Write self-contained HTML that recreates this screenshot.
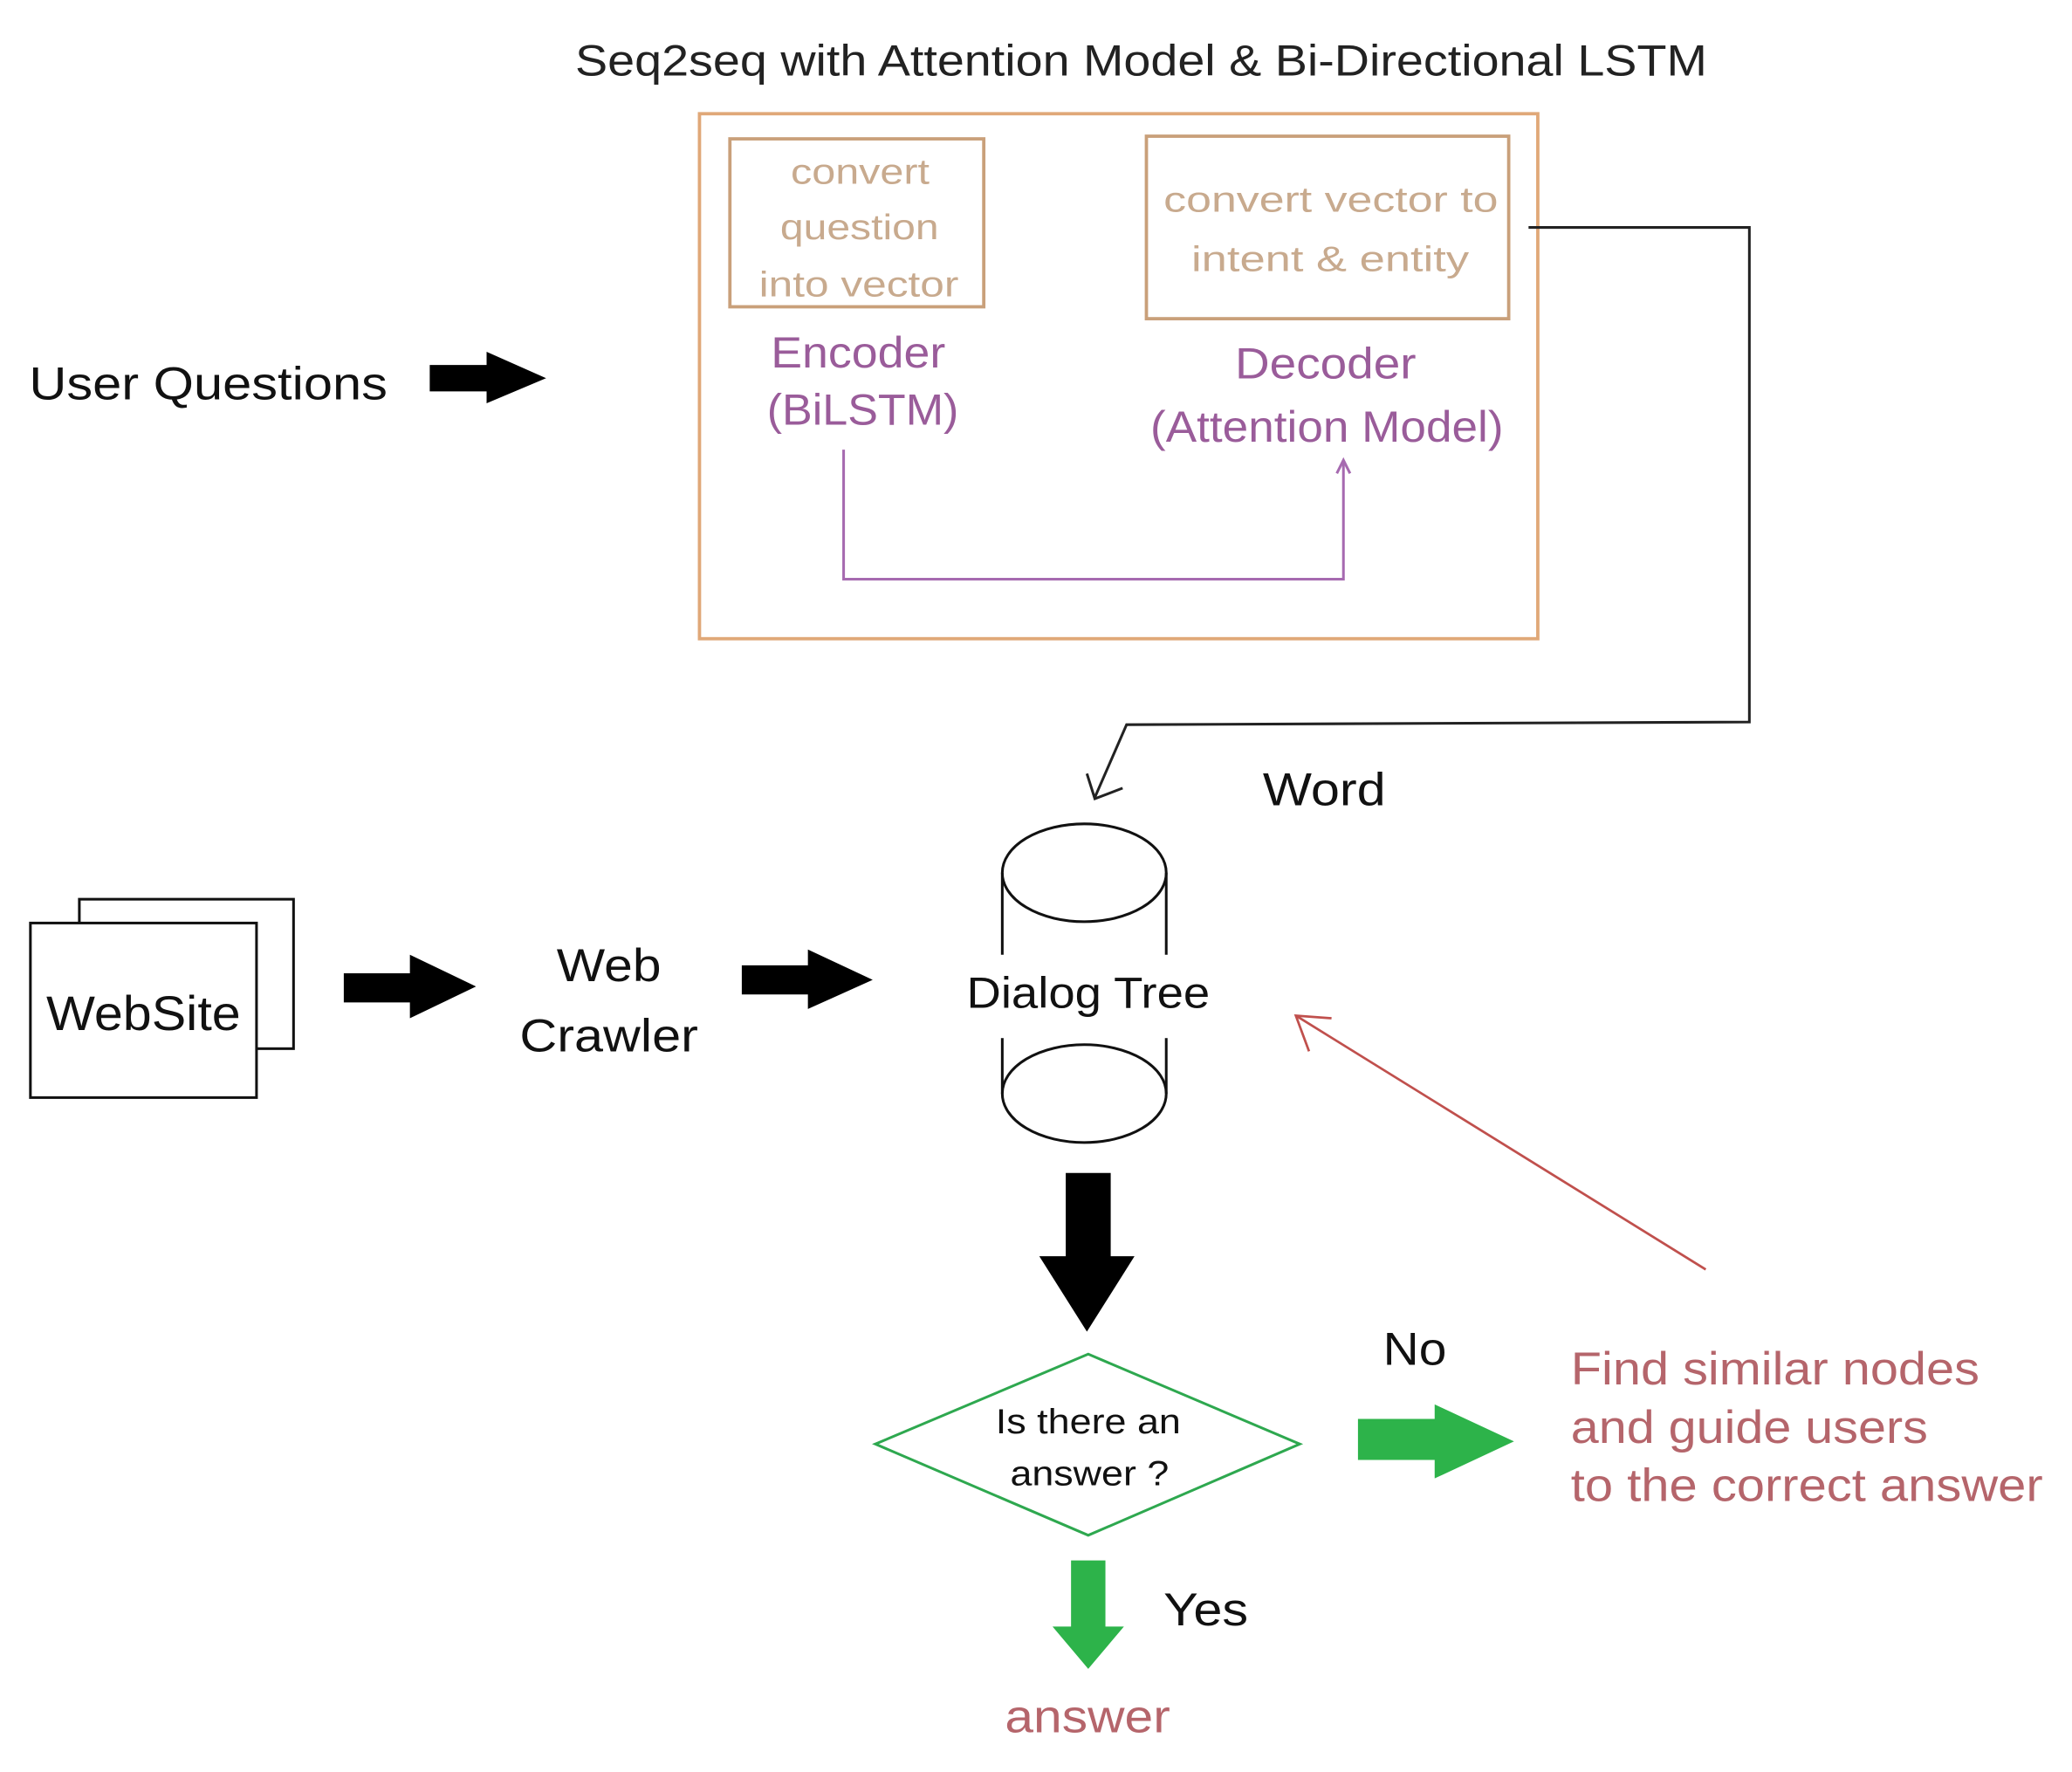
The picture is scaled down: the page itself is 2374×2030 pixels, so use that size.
<!DOCTYPE html>
<html><head><meta charset="utf-8"><style>
html,body{margin:0;padding:0;background:#fff;}
svg{display:block;}
text{font-family:"Liberation Sans",sans-serif;}
</style></head><body>
<svg width="2374" height="2030" viewBox="0 0 1567 1340" preserveAspectRatio="none" xmlns="http://www.w3.org/2000/svg">
<rect width="1567" height="1340" fill="#fff"/>
<g lengthAdjust="spacingAndGlyphs">
<text x="435" y="57" font-size="33" fill="#222" textLength="856" lengthAdjust="spacingAndGlyphs">Seq2seq with Attention Model &amp; Bi-Directional LSTM</text>
</g>
<rect x="529" y="86" width="634" height="397" fill="none" stroke="#e0a878" stroke-width="2.5"/>
<rect x="552" y="105" width="192" height="127" fill="none" stroke="#c9a07a" stroke-width="2.5"/>
<g font-size="27" fill="#c8aa8e">
<text x="598" y="139" textLength="105" lengthAdjust="spacingAndGlyphs">convert</text>
<text x="590" y="181" textLength="120" lengthAdjust="spacingAndGlyphs">question</text>
<text x="574" y="224" textLength="151" lengthAdjust="spacingAndGlyphs">into vector</text>
<text x="880" y="160" textLength="253" lengthAdjust="spacingAndGlyphs">convert vector to</text>
<text x="901" y="205" textLength="210" lengthAdjust="spacingAndGlyphs">intent &amp; entity</text>
</g>
<rect x="867" y="103" width="274" height="138" fill="none" stroke="#c9a07a" stroke-width="2.5"/>
<g font-size="33" fill="#9a5c9a">
<text x="583" y="278" textLength="132" lengthAdjust="spacingAndGlyphs">Encoder</text>
<text x="580" y="321" textLength="145" lengthAdjust="spacingAndGlyphs">(BiLSTM)</text>
<text x="934" y="286" textLength="137" lengthAdjust="spacingAndGlyphs">Decoder</text>
<text x="870" y="334" textLength="267" lengthAdjust="spacingAndGlyphs">(Attention Model)</text>
</g>
<polyline points="638,340 638,438 1016,438 1016,350" fill="none" stroke="#a66ab0" stroke-width="2"/>
<polyline points="1011,358 1016,348 1021,358" fill="none" stroke="#a66ab0" stroke-width="2"/>
<polyline points="1156,172 1323,172 1323,546 852,548 828,603" fill="none" stroke="#222" stroke-width="2"/>
<polyline points="822,585 828,604 849,596" fill="none" stroke="#222" stroke-width="2"/>
<text x="955" y="609" font-size="35" fill="#111" textLength="93" lengthAdjust="spacingAndGlyphs">Word</text>
<text x="22" y="302" font-size="35" fill="#111" textLength="271" lengthAdjust="spacingAndGlyphs">User Questions</text>
<polygon points="325,276 368,276 368,266 413,286 368,305 368,296 325,296" fill="#000"/>
<ellipse cx="820" cy="660" rx="62" ry="37" fill="none" stroke="#111" stroke-width="2"/>
<ellipse cx="820" cy="827" rx="62" ry="37" fill="none" stroke="#111" stroke-width="2"/>
<line x1="758" y1="660" x2="758" y2="722" stroke="#111" stroke-width="2"/>
<line x1="882" y1="660" x2="882" y2="722" stroke="#111" stroke-width="2"/>
<line x1="758" y1="785" x2="758" y2="827" stroke="#111" stroke-width="2"/>
<line x1="882" y1="785" x2="882" y2="827" stroke="#111" stroke-width="2"/>
<text x="731" y="762" font-size="33" fill="#111" textLength="184" lengthAdjust="spacingAndGlyphs">Dialog Tree</text>
<rect x="60" y="680" width="162" height="113" fill="#fff" stroke="#111" stroke-width="2"/>
<rect x="23" y="698" width="171" height="132" fill="#fff" stroke="#111" stroke-width="2"/>
<text x="35" y="779" font-size="37" fill="#111" textLength="147" lengthAdjust="spacingAndGlyphs">WebSite</text>
<polygon points="260,736 310,736 310,722 360,746 310,770 310,758 260,758" fill="#000"/>
<text x="421" y="742" font-size="35" fill="#111" textLength="79" lengthAdjust="spacingAndGlyphs">Web</text>
<text x="393" y="795" font-size="35" fill="#111" textLength="135" lengthAdjust="spacingAndGlyphs">Crawler</text>
<polygon points="561,730 611,730 611,718 660,741 611,763 611,752 561,752" fill="#000"/>
<polygon points="806,887 840,887 840,950 858,950 822,1007 786,950 806,950" fill="#000"/>
<polygon points="823,1024 983,1092 823,1161 662,1092" fill="none" stroke="#2ea84f" stroke-width="2"/>
<text x="753" y="1084" font-size="26" fill="#111" textLength="140" lengthAdjust="spacingAndGlyphs">Is there an</text>
<text x="764" y="1123" font-size="26" fill="#111" textLength="120" lengthAdjust="spacingAndGlyphs">answer ?</text>
<text x="1046" y="1032" font-size="35" fill="#111" textLength="48" lengthAdjust="spacingAndGlyphs">No</text>
<polygon points="1027,1073 1085,1073 1085,1062 1145,1090 1085,1118 1085,1104 1027,1104" fill="#2db34a"/>
<g font-size="35" fill="#b5656b">
<text x="1188" y="1047" textLength="309" lengthAdjust="spacingAndGlyphs">Find similar nodes</text>
<text x="1188" y="1091" textLength="270" lengthAdjust="spacingAndGlyphs">and guide users</text>
<text x="1188" y="1135" textLength="357" lengthAdjust="spacingAndGlyphs">to the correct answer</text>
</g>
<line x1="1290" y1="960" x2="980" y2="768" stroke="#c0504d" stroke-width="1.8"/>
<polyline points="990,795 980,768 1007,770" fill="none" stroke="#c0504d" stroke-width="1.8"/>
<polygon points="810,1180 836,1180 836,1230 850,1230 823,1262 796,1230 810,1230" fill="#2db34a"/>
<text x="880" y="1229" font-size="35" fill="#111" textLength="64" lengthAdjust="spacingAndGlyphs">Yes</text>
<text x="760" y="1310" font-size="35" fill="#b5656b" textLength="125" lengthAdjust="spacingAndGlyphs">answer</text>
</svg>
</body></html>
